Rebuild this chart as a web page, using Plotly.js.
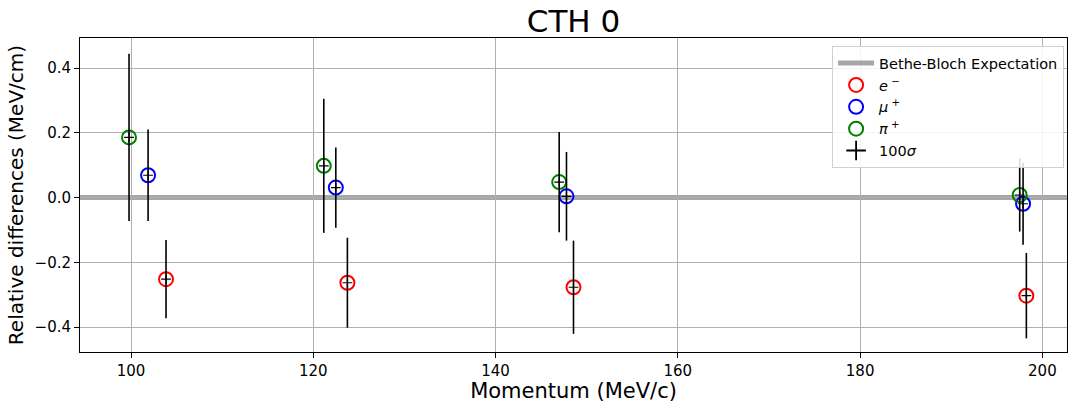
<!DOCTYPE html>
<html>
<head>
<meta charset="utf-8">
<script src="https://cdn.plot.ly/plotly-3.0.1.min.js"></script>
<style>
  html, body { margin: 0; padding: 0; background: #fff; }
  #chart { width: 1068px; height: 403px; }
</style>
</head>
<body>
<div id="chart"></div>
<script>
// Measured momentum (MeV/c) for each particle species
const momElectron = [103.84, 123.74, 148.55, 198.24];
const momMuon     = [101.87, 122.47, 147.78, 197.88];
const momPion     = [99.78, 121.15, 146.98, 197.51];

// Relative dE/dx difference to the Bethe-Bloch expectation (MeV/cm)
const diffElectron = [-0.252, -0.263, -0.277, -0.303];
const diffMuon     = [0.069, 0.031, 0.004, -0.019];
const diffPion     = [0.186, 0.098, 0.048, 0.008];

// 100 x sigma uncertainties (MeV/cm)
const sigElectron = [0.121, 0.139, 0.144, 0.132];
const sigMuon     = [0.141, 0.124, 0.137, 0.127];
const sigPion     = [0.258, 0.207, 0.155, 0.113];

// Expected difference (reference line)
const expectation = 0;

const font = 'DejaVu Sans, sans-serif';

function species(name, x, y, color) {
  return {
    type: 'scatter', mode: 'markers', name: name,
    x: x, y: y,
    marker: { symbol: 'circle-open', size: 14, color: color, line: { width: 2, color: color } },
    hoverinfo: 'x+y'
  };
}

const allX = momElectron.concat(momMuon, momPion);
const allY = diffElectron.concat(diffMuon, diffPion);
const allS = sigElectron.concat(sigMuon, sigPion);

const traces = [
  {
    type: 'scatter', mode: 'lines', name: 'Bethe-Bloch Expectation',
    x: [null], y: [null],
    line: { color: 'rgba(128,128,128,0.7)', width: 5 }
  },
  species('<i>e</i><sup> −</sup>', momElectron, diffElectron, '#ff0000'),
  species('<i>μ</i><sup> +</sup>', momMuon, diffMuon, '#0000ff'),
  species('<i>π</i><sup> +</sup>', momPion, diffPion, '#008000'),
  // legend key for the uncertainty bars
  {
    type: 'scatter', mode: 'markers', name: '100<i>σ</i>',
    x: [null], y: [null],
    marker: { symbol: 'cross-thin', size: 14, color: '#000', line: { width: 1.8, color: '#000' } }
  },
  // uncertainty bars with small centre markers
  {
    type: 'scatter', mode: 'markers', name: '100<i>σ</i>', showlegend: false,
    x: allX, y: allY,
    marker: { symbol: 'cross-thin', size: 7, color: '#000', line: { width: 1.2, color: '#000' } },
    error_y: { type: 'data', array: allS, symmetric: true, color: '#000', thickness: 1.6, width: 0 }
  }
];

const layout = {
  width: 1068, height: 403,
  margin: { l: 80, r: 1, t: 38, b: 51 },
  paper_bgcolor: '#fff', plot_bgcolor: '#fff',
  font: { family: font, color: '#000', size: 15 },
  title: { text: 'CTH 0', font: { family: font, size: 31, color: '#000' },
           xref: 'paper', x: 0.5, xanchor: 'center', yref: 'container', y: 0.948, yanchor: 'middle' },
  xaxis: {
    title: { text: 'Momentum (MeV/c)', font: { family: font, size: 21 }, standoff: 5 },
    range: [94.4, 202.7], tickvals: [100, 120, 140, 160, 180, 200],
    showgrid: true, gridcolor: '#b0b0b0', gridwidth: 1,
    zeroline: false, showline: true, linecolor: '#000', linewidth: 1, mirror: true,
    ticks: 'outside', ticklen: 5, tickcolor: '#000', tickfont: { size: 15 }
  },
  yaxis: {
    title: { text: 'Relative differences (MeV/cm)', font: { family: font, size: 20 }, standoff: 5 },
    range: [-0.477, 0.493], tickvals: [-0.4, -0.2, 0, 0.2, 0.4], tickformat: '.1f',
    showgrid: true, gridcolor: '#b0b0b0', gridwidth: 1,
    zeroline: false, showline: true, linecolor: '#000', linewidth: 1, mirror: true,
    ticks: 'outside', ticklen: 5, tickcolor: '#000', tickfont: { size: 15 }
  },
  shapes: [{
    type: 'line', xref: 'paper', x0: 0, x1: 1, yref: 'y', y0: expectation, y1: expectation,
    line: { color: 'rgba(128,128,128,0.7)', width: 5 }, layer: 'below'
  }],
  legend: {
    x: 0.762, y: 0.974, xanchor: 'left', yanchor: 'top',
    bgcolor: 'rgba(255,255,255,0.85)', bordercolor: '#d0d0d0', borderwidth: 1,
    font: { family: font, size: 14.5 }, tracegroupgap: 0, itemwidth: 36
  },
  showlegend: true
};

Plotly.newPlot('chart', traces, layout, { displayModeBar: false, staticPlot: true });
</script>
</body>
</html>
